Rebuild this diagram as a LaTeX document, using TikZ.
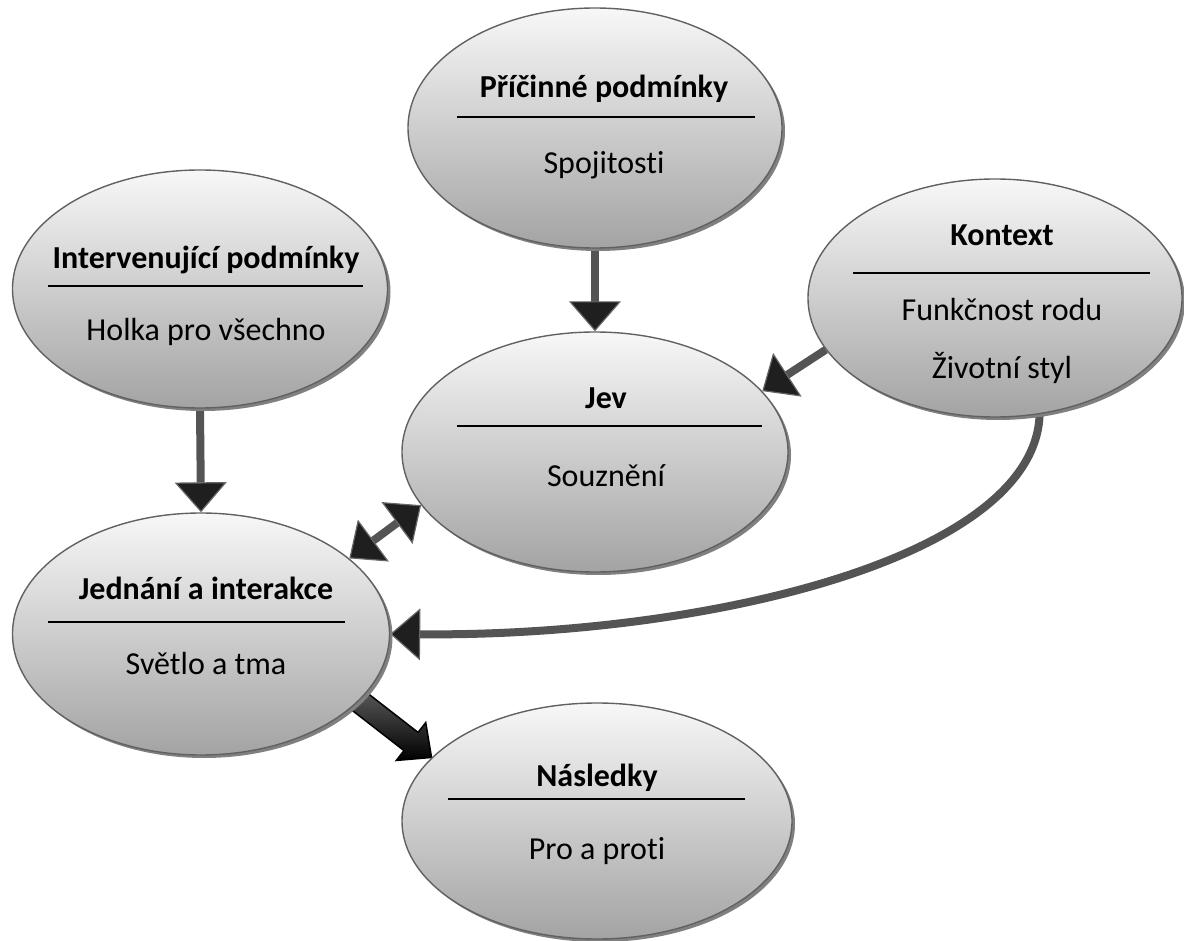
\documentclass[tikz,border=0pt]{standalone}
\usepackage{fontspec}
\setmainfont{Carlito}[Ligatures=CommonOff]
\usetikzlibrary{shapes.geometric, arrows.meta, shadows, calc, backgrounds}

\tikzset{
  bubble/.style={ellipse, draw=black!62, line width=1.4pt, inner sep=0pt,
    minimum width=375pt, minimum height=238pt,
    top color=black!3, bottom color=black!36,
    drop shadow={shadow xshift=3pt, shadow yshift=-3pt, fill=black!50, opacity=1}},
  titletext/.style={font=\fontsize{32}{38}\selectfont\bfseries, inner sep=0pt, text height=22pt, text depth=0pt},
  subtext/.style={font=\fontsize{32}{38}\selectfont, inner sep=0pt, text height=22pt, text depth=0pt},
  sepline/.style={draw=black, line width=1.6pt},
  headtip/.tip={Triangle[length=30pt, width=52pt, line width=1.2pt, color=black!60, fill=black!88]},
  flow/.style={draw=black!67, line width=8pt, -headtip},
  flowboth/.style={draw=black!67, line width=8pt, headtip-headtip},
  blockarrow/.style={draw=black, line width=1.5pt, top color=black!62, middle color=black!82, bottom color=black},
}

\begin{document}
\begin{tikzpicture}[x=1pt, y=-1pt]
  \useasboundingbox (0,0) rectangle (1184,941);

  % Ellipses
  \node[bubble, minimum width=374pt, minimum height=240pt] (pric) at (595,128) {};
  \node[bubble, minimum width=374pt] (kont) at (995,298) {};
  \node[bubble] (inter) at (200,289) {};
  \node[bubble, minimum width=386pt, minimum height=240pt] (jev) at (595,452) {};
  \node[bubble, minimum width=377pt, minimum height=242pt] (jed) at (201,634) {};
  \node[bubble, minimum width=390pt, minimum height=236pt] (nasl) at (597,821) {};

  % Texts and separators
  \node[titletext] (pric-t) at (604,87) {Příčinné podmínky};
  \draw[sepline] (457,117) -- (755,117);
  \node[subtext] (pric-s) at (604,163) {Spojitosti};

  \node[titletext] (kont-t) at (1002,235) {Kontext};
  \draw[sepline] (853,273) -- (1150,273);
  \node[subtext] (kont-s1) at (1002,310) {Funkčnost rodu};
  \node[subtext] (kont-s2) at (1002,367) {Životní styl};

  \node[titletext] (inter-t) at (206,258) {Intervenující podmínky};
  \draw[sepline] (48,286) -- (363,286);
  \node[subtext] (inter-s) at (206,330) {Holka pro všechno};

  \node[titletext] (jev-t) at (606,398) {Jev};
  \draw[sepline] (457,426) -- (762,426);
  \node[subtext] (jev-s) at (606,475) {Souznění};

  \node[titletext] (jed-t) at (206,588) {Jednání a interakce};
  \draw[sepline] (48,622) -- (345,622);
  \node[subtext] (jed-s) at (206,663) {Světlo a tma};

  \node[titletext] (nasl-t) at (597,775) {Následky};
  \draw[sepline] (448,799) -- (745,799);
  \node[subtext] (nasl-s) at (597,848) {Pro a proti};

  % Connectors
  \begin{scope}[on background layer]
    \draw[flow] (pric.south) -- (jev.north);
    \draw[flow] (kont.197) -- (jev.20);
    \draw[flow] (inter.south) -- (jed.north);
    \draw[flowboth] (jev.197) -- (jed.27);
    \draw[flow] (kont.-69) .. controls (1035,560) and (700,637) .. (jed.east);

    % Block arrow to consequences
    \coordinate (bs) at (jed.-23);
    \coordinate (bt) at (nasl.159);
    \pgfpointanchor{bs}{center}\pgfgetlastxy{\bsx}{\bsy}
    \pgfpointanchor{bt}{center}\pgfgetlastxy{\btx}{\bty}
    \pgfmathsetmacro\blkang{atan2((\bty)-(\bsy),(\btx)-(\bsx))}
    \pgfmathsetmacro\blklen{veclen((\btx)-(\bsx),(\bty)-(\bsy))}
    \begin{scope}[shift={(bs)}, rotate=\blkang, x=1pt, y=1pt]
      \draw[blockarrow] (-12,-11.5) -- ({\blklen-26},-11.5) -- ({\blklen-26},-24)
        -- (\blklen,0) -- ({\blklen-26},24) -- ({\blklen-26},11.5) -- (-12,11.5) -- cycle;
    \end{scope}
  \end{scope}
\end{tikzpicture}
\end{document}
